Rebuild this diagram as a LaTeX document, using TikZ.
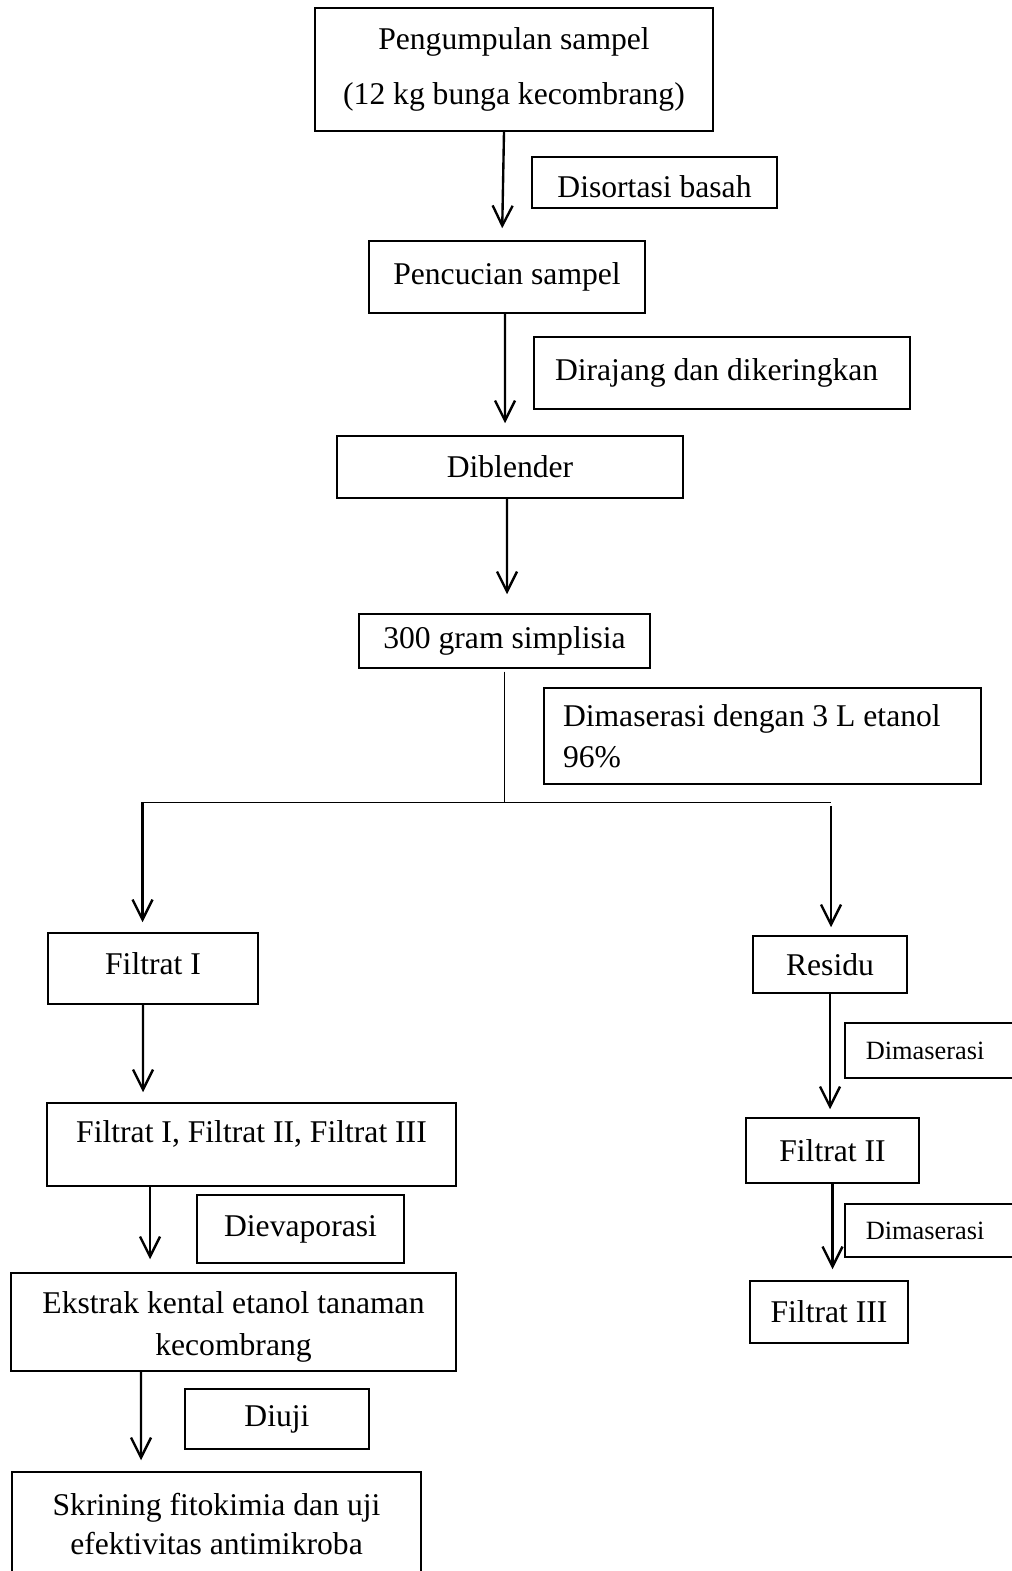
\documentclass[tikz,border=0pt]{standalone}
\usepackage{fontspec}
\setmainfont{Liberation Serif}
\usetikzlibrary{arrows.meta,positioning}

\begin{document}
\begin{tikzpicture}[
  kotak/.style={draw, line width=0.85pt, inner ysep=0pt, inner xsep=0.2cm, align=center, font=\fontsize{18}{23.5}\selectfont},
  kotakkiri/.style={kotak, align=flush left, inner xsep=0.4cm},
  kotakkecil/.style={kotak, align=flush left, anchor=west, inner xsep=0.42cm, text width=2.76cm, font=\fontsize{15}{18}\selectfont},
  panah/.style={-{Straight Barb[length=0.4cm,width=0.4cm]}, line width=1.35pt},
  garis/.style={line width=1.1pt}
]
  \useasboundingbox (0,0) rectangle (20.22,31.42);

  % Tahap awal: sampel sampai simplisia
  \node[kotak, minimum width=7.96cm, minimum height=2.46cm, font=\fontsize{18}{31}\selectfont] (pengumpulan) at (10.28,30.03) {Pengumpulan sampel\\(12 kg bunga kecombrang)};
  \node[kotak, minimum width=4.90cm, minimum height=1.02cm, text height=0.59cm, text depth=0cm] (disortasi) at (13.09,27.77) {Disortasi basah};
  \node[kotak, minimum width=5.52cm, minimum height=1.44cm] (pencucian) at (10.14,25.88) {Pencucian sampel};
  \node[kotakkiri, text width=6.68cm, minimum height=1.44cm, inner xsep=0.42cm] (dirajang) at (14.44,23.96) {Dirajang dan dikeringkan};
  \node[kotak, minimum width=6.92cm, minimum height=1.24cm] (diblender) at (10.20,22.08) {Diblender};
  \node[kotak, minimum width=5.82cm, minimum height=1.08cm] (simplisia) at (10.09,18.60) {300 gram simplisia};
  \node[kotakkiri, text width=7.98cm, minimum height=1.92cm, inner xsep=0.38cm] (maserasi) at (15.25,16.70) {Dimaserasi dengan 3 L etanol\\96\%};

  \draw[panah, shorten >=0.24cm] ([xshift=-0.2cm]pengumpulan.south) -- ([xshift=-0.1cm]pencucian.north);
  \draw[panah, shorten >=0.24cm] ([xshift=-0.04cm]pencucian.south) -- ([xshift=-0.1cm]diblender.north);
  \draw[panah, shorten >=0.38cm] ([xshift=-0.06cm]diblender.south) -- ([xshift=0.05cm]simplisia.north);

  % Percabangan: filtrat dan residu
  \coordinate (kiri) at (2.85,15.37);
  \coordinate (kanan) at (16.62,15.37);
  \node[kotak, minimum width=4.20cm, minimum height=1.42cm, text height=0.43cm, text depth=0.2cm] (filtratsatu) at (3.06,12.05) {Filtrat I};
  \node[kotak, minimum width=3.08cm, minimum height=1.14cm] (residu) at (16.60,12.13) {Residu};

  \draw[line width=0.8pt, shorten <=0.06cm] (simplisia.south) -- (simplisia.south |- kiri);
  \draw[garis] (kiri) -- (kanan);
  \draw[panah, shorten >=0.2cm] (kiri) -- (kiri |- filtratsatu.north);
  \draw[panah, shorten <=0.08cm, shorten >=0.16cm] (kanan) -- (kanan |- residu.north);

  % Kolom kanan: maserasi ulang
  \node[kotakkecil, minimum height=1.10cm] (dimaserasisatu) at (16.88,10.41) {Dimaserasi};
  \node[kotak, minimum width=3.46cm, minimum height=1.30cm] (filtratdua) at (16.65,8.41) {Filtrat II};
  \node[kotakkecil, minimum height=1.06cm] (dimaserasidua) at (16.88,6.81) {Dimaserasi};
  \node[kotak, minimum width=3.16cm, minimum height=1.24cm] (filtrattiga) at (16.58,5.18) {Filtrat III};

  \draw[panah, shorten >=0.16cm] (residu.south) -- (residu.south |- filtratdua.north);
  \draw[panah, shorten >=0.22cm] (filtratdua.south) -- (filtratdua.south |- filtrattiga.north);

  % Kolom kiri: penggabungan sampai pengujian
  \node[kotak, minimum width=8.18cm, minimum height=1.66cm, text height=0.43cm, text depth=0.49cm] (gabungan) at (5.03,8.53) {Filtrat I, Filtrat II, Filtrat III};
  \node[kotak, minimum width=4.14cm, minimum height=1.36cm] (dievaporasi) at (6.01,6.84) {Dievaporasi};
  \node[kotak, minimum width=8.90cm, minimum height=1.96cm] (ekstrak) at (4.67,4.98) {\raisebox{-0.1cm}[\height][\depth]{Ekstrak kental etanol tanaman}\\\raisebox{-0.1cm}[\height][\depth]{kecombrang}};
  \node[kotak, minimum width=3.68cm, minimum height=1.20cm] (diuji) at (5.54,3.04) {Diuji};
  \node[kotak, minimum width=8.18cm, minimum height=2.08cm, font=\fontsize{18}{22}\selectfont] (skrining) at (4.33,0.94) {Skrining fitokimia dan uji\\efektivitas antimikroba};

  \draw[panah, shorten >=0.2cm] ([xshift=-0.2cm]filtratsatu.south) -- ([xshift=-2.17cm]gabungan.north);
  \draw[panah, shorten >=0.26cm] ([xshift=-2.03cm]gabungan.south) -- ([xshift=-1.67cm]ekstrak.north);
  \draw[panah, shorten >=0.22cm] ([xshift=-1.85cm]ekstrak.south) -- ([xshift=-1.51cm]skrining.north);
\end{tikzpicture}
\end{document}
